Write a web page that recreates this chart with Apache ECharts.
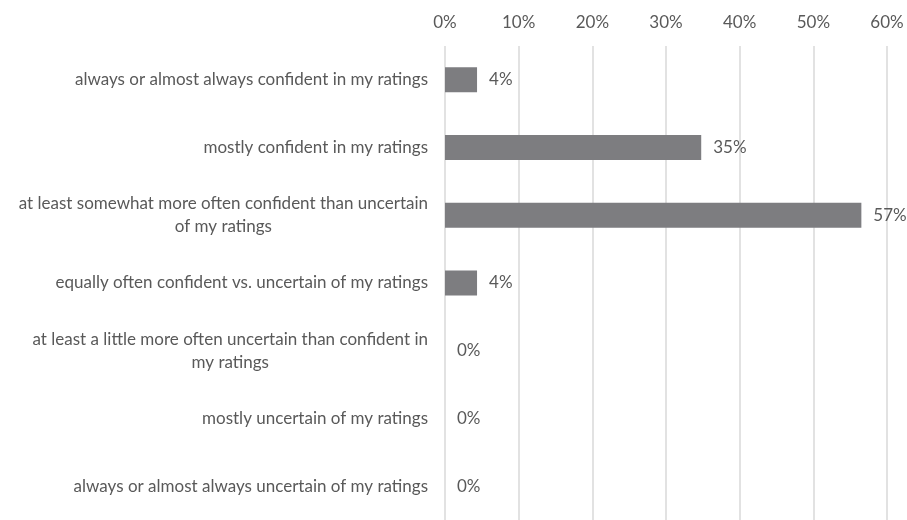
<!DOCTYPE html>
<html><head><meta charset="utf-8">
<script src="https://cdn.jsdelivr.net/npm/echarts@6/dist/echarts.min.js"></script>
<style>html,body{margin:0;padding:0;background:#fff}#c{width:907px;height:520px}</style>
</head><body><div id="c"></div>
<script>
const categories = [
  "always or almost always confident in my ratings",
  "mostly confident in my ratings",
  "at least somewhat more often confident than uncertain\nof my ratings",
  "equally often confident vs. uncertain of my ratings",
  "at least a little more often uncertain than confident in\nmy ratings",
  "mostly uncertain of my ratings",
  "always or almost always uncertain of my ratings"
];
const values = [4.35, 34.78, 56.52, 4.35, 0, 0, 0];
const xTicks = [0, 10, 20, 30, 40, 50, 60];

const chart = echarts.init(document.getElementById('c'), null, {renderer: 'canvas'});
const font = 'Lato';
const fs = 17;
chart.setOption({
  animation: false,
  grid: {left: 445, right: 20, top: 46, bottom: -4, containLabel: false},
  xAxis: {
    type: 'value', position: 'top', min: xTicks[0], max: xTicks[xTicks.length-1], interval: 10,
    axisLine: {show: false}, axisTick: {show: false},
    axisLabel: {formatter: v => v + '%', color: '#595959', fontSize: fs, fontFamily: font, margin: 15},
    splitLine: {show: true, lineStyle: {color: '#d9d9d9', width: 1.5}}
  },
  yAxis: {
    type: 'category', inverse: true, data: categories,
    axisLine: {show: false}, axisTick: {show: false},
    axisLabel: {
      color: '#595959', fontSize: fs, fontFamily: font, margin: 17, lineHeight: 23,
      formatter: v => v.split('\n').map(l => '{c|' + l + '}').join('\n'),
      rich: {c: {align: 'center', color: '#595959', fontSize: fs, fontFamily: font, lineHeight: 23}}
    }
  },
  series: [{
    type: 'bar', data: values, barWidth: 25,
    itemStyle: {color: '#7d7d80'},
    label: {show: true, position: 'right', distance: 12, formatter: p => Math.round(p.value) + '%',
      color: '#595959', fontSize: fs, fontFamily: font}
  }]
});
</script></body></html>
